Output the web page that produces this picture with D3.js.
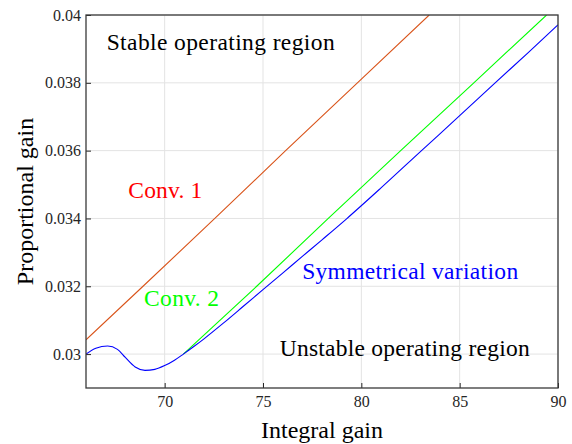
<!DOCTYPE html>
<html>
<head>
<meta charset="utf-8">
<script src="https://cdn.jsdelivr.net/npm/d3@7"></script>
<style>
  html, body { margin: 0; padding: 0; background: #fff; }
  svg { display: block; }
</style>
</head>
<body>
<svg id="chart" width="572" height="444"></svg>
<script>
// Stability boundary in the (integral gain, proportional gain) plane
const xTicks = [70, 75, 80, 85, 90];
const xTickLabels = ["70", "75", "80", "85", "90"];
const yTicks = [0.030, 0.032, 0.034, 0.036, 0.038, 0.040];
const yTickLabels = ["0.03", "0.032", "0.034", "0.036", "0.038", "0.04"];

// Conv. 1 boundary
const conv1Ki = [66, 68.9, 72.55, 76.15, 79.8, 83.45];
const conv1Kp = [0.03042, 0.032, 0.034, 0.036, 0.038, 0.040];

// Conv. 2 boundary
const conv2Ki = [70.95, 74.68, 78.32, 82.0, 85.72, 89.42];
const conv2Kp = [0.030, 0.032, 0.034, 0.036, 0.038, 0.040];

// Symmetrical variation boundary
const symKi = [66, 66.5, 67.1, 67.6, 68.0, 68.5, 69.0, 69.5, 70.0, 70.5, 70.95,
               71.5, 72, 73, 74, 75, 76, 77, 78, 79.25, 81, 83.06, 85, 86.79, 88.5, 90];
const symKp = [0.03000, 0.03017, 0.03024, 0.03014, 0.02990, 0.02962, 0.02952, 0.02955, 0.02966, 0.02982, 0.03000,
               0.03023, 0.03045, 0.03092, 0.03141, 0.03190, 0.03239, 0.03288, 0.03337, 0.03399, 0.03490,
               0.03600, 0.03703, 0.03799, 0.03890, 0.03971];

const FONT = "'Liberation Serif', 'Times New Roman', serif";

const svg = d3.select("#chart").attr("font-family", FONT);
const m = { left: 86, right: 558, top: 15, bottom: 388 };

const x = d3.scaleLinear().domain([66, 90]).range([m.left, m.right]);
const y = d3.scaleLinear().domain([0.029, 0.040]).range([m.bottom, m.top]);

svg.append("defs").append("clipPath").attr("id", "plotClip")
  .append("rect")
  .attr("x", m.left).attr("y", m.top)
  .attr("width", m.right - m.left).attr("height", m.bottom - m.top);

// grid
const grid = svg.append("g").attr("class", "grid");
grid.selectAll("line.gx").data(xTicks).join("line")
  .attr("x1", d => x(d)).attr("x2", d => x(d))
  .attr("y1", m.top).attr("y2", m.bottom)
  .attr("stroke", "#e3e3e3").attr("stroke-width", 1);
grid.selectAll("line.gy").data(yTicks).join("line")
  .attr("x1", m.left).attr("x2", m.right)
  .attr("y1", d => y(d)).attr("y2", d => y(d))
  .attr("stroke", "#e3e3e3").attr("stroke-width", 1);

// curves
const zip = (a, b) => a.map((v, i) => [v, b[i]]);
const lineLin = d3.line().x(d => x(d[0])).y(d => y(d[1]));
const lineSmooth = d3.line().x(d => x(d[0])).y(d => y(d[1])).curve(d3.curveMonotoneX);

const plot = svg.append("g").attr("clip-path", "url(#plotClip)");
plot.append("path").datum(zip(conv1Ki, conv1Kp))
  .attr("d", lineLin).attr("fill", "none")
  .attr("stroke", "#D95319").attr("stroke-width", 1.1);
plot.append("path").datum(zip(conv2Ki, conv2Kp))
  .attr("d", lineLin).attr("fill", "none")
  .attr("stroke", "#00FF00").attr("stroke-width", 1.1);
plot.append("path").datum(zip(symKi, symKp))
  .attr("d", lineSmooth).attr("fill", "none")
  .attr("stroke", "#0000FF").attr("stroke-width", 1.1);

// axes (ticks pointing inward)
const xAxis = d3.axisBottom(x).tickValues(xTicks)
  .tickFormat((d, i) => xTickLabels[i]).tickSize(-5).tickPadding(8);
const yAxis = d3.axisLeft(y).tickValues(yTicks)
  .tickFormat((d, i) => yTickLabels[i]).tickSize(-5).tickPadding(5);

const gx = svg.append("g").attr("transform", `translate(0,${m.bottom})`).call(xAxis);
const gy = svg.append("g").attr("transform", `translate(${m.left},0)`).call(yAxis);
[gx, gy].forEach(g => {
  g.attr("font-family", FONT).attr("font-size", 16);
  g.select(".domain").remove();
  g.selectAll(".tick line").attr("stroke", "#262626").attr("stroke-width", 1);
  g.selectAll(".tick text").attr("fill", "#262626");
});

// frame
svg.append("rect")
  .attr("x", m.left).attr("y", m.top)
  .attr("width", m.right - m.left).attr("height", m.bottom - m.top)
  .attr("fill", "none").attr("stroke", "#3a3a3a").attr("stroke-width", 1.3);

// axis titles
svg.append("text")
  .attr("x", (m.left + m.right) / 2).attr("y", 438)
  .attr("text-anchor", "middle").attr("font-size", 24).attr("fill", "#000")
  .text("Integral gain");
svg.append("text")
  .attr("transform", `translate(33,${(m.top + m.bottom) / 2}) rotate(-90)`)
  .attr("text-anchor", "middle").attr("font-size", 24).attr("fill", "#000")
  .text("Proportional gain");

// annotations
const notes = [
  { t: "Stable operating region", ki: 67.05, kp: 0.03897, c: "#000", w: 228 },
  { t: "Conv. 1", ki: 68.15, kp: 0.03461, c: "#FF0000", w: 74 },
  { t: "Conv. 2", ki: 68.95, kp: 0.03143, c: "#00FF00", w: 75 },
  { t: "Symmetrical variation", ki: 76.99, kp: 0.03220, c: "#0000FF", w: 216 },
  { t: "Unstable operating region", ki: 75.85, kp: 0.02994, c: "#000", w: 250 }
];
notes.forEach(n => {
  svg.append("text")
    .attr("x", x(n.ki)).attr("y", y(n.kp))
    .attr("font-size", 23.5).attr("fill", n.c)
    .attr("textLength", n.w).attr("lengthAdjust", "spacing")
    .text(n.t);
});
</script>
</body>
</html>
